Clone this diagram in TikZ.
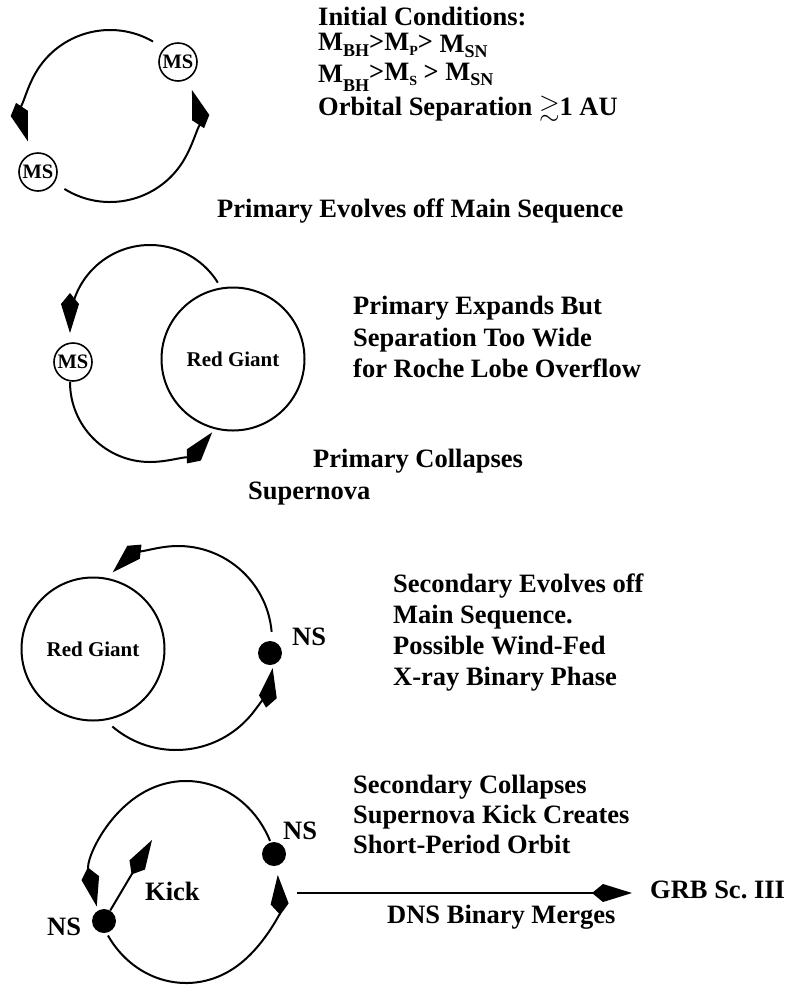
\documentclass[tikz,border=0pt]{standalone}
\usepackage{fontspec}
\setmainfont{Liberation Serif}
\usepackage{amssymb}
\usetikzlibrary{arrows.meta,calc}

\newcommand{\mass}[2][-6pt]{M\raisebox{#1}{\fontsize{18}{18}\selectfont #2}}

\begin{document}
\begin{tikzpicture}[
		x=1pt, y=1pt,
		font=\fontsize{26.5}{30}\selectfont\bfseries,
		>={Kite[length=40pt,width=18pt,inset=11pt]},
		flow/.style={->, line width=2pt},
		mstar/.style={draw, circle, line width=1.6pt, minimum size=38pt, inner sep=0pt, font=\fontsize{20.5}{20}\selectfont\bfseries},
		giant/.style={draw, circle, line width=2pt, minimum size=143pt, inner sep=0pt, font=\fontsize{21}{21}\selectfont\bfseries},
		nstar/.style={fill, circle, minimum size=24pt, inner sep=0pt},
		caption/.style={anchor=base west, inner sep=0pt}
		]
		\useasboundingbox (0,0) rectangle (795,-997);
		
		\coordinate (o1) at (110,-116);
		\node[mstar] (ms1) at (178,-62) {MS};
		\node[mstar] (ms2) at (38,-172) {MS};
		\draw[flow] ($(o1)+(60:86)$) arc[start angle=60, end angle=197, radius=86];
		\draw[flow] ($(o1)+(238:86)$) arc[start angle=238, end angle=377.6, radius=86];
		
		\node[caption] (cond1) at (318,-25) {Initial Conditions:};
		\node[caption] (cond2) at (318,-50) {\mass{BH}>\mass[-5pt]{\fontsize{14}{14}\selectfont P}> \raisebox{-2pt}{\mass[-5pt]{SN}}};
		\node[caption] (cond3) at (318,-82) {\mass[-9pt]{BH}\raisebox{2pt}{>\mass[-5pt]{\fontsize{14}{14}\selectfont S} > \mass[-5pt]{SN}}};
		\node[caption] (cond4) at (318,-115) {Orbital Separation $\gtrsim$1 AU};
		\node[caption] (evolve1) at (217,-217) {Primary Evolves off Main Sequence};
		
		\node[giant] (rg1) at (233,-359) {Red Giant};
		\node[mstar] (ms3) at (73,-362) {MS};
		\coordinate (o2u) at (150,-325);
		\coordinate (o2l) at (150,-382);
		\draw[flow] ($(o2u)+(32:80)$) arc[start angle=32, end angle=180, radius=80] -- ++(0,-8);
		\draw[flow] ($(o2l)+(180:80)$) arc[start angle=180, end angle=321, radius=80];
		
		\node[caption] (expand1) at (353,-314) {Primary Expands But};
		\node[caption] (expand2) at (353,-346) {Separation Too Wide};
		\node[caption] (expand3) at (353,-377) {for Roche Lobe Overflow};
		\node[caption] (collapse1) at (313,-467) {Primary Collapses};
		\node[caption] (collapse2) at (248,-499) {Supernova};
		
		\node[giant] (rg2) at (93,-649) {Red Giant};
		\node[nstar] (ns1) at (270,-653) {};
		\node[caption] (nslab1) at (292,-645) {NS};
		\coordinate (o3u) at (178,-640);
		\coordinate (o3l) at (176,-652);
		\draw[flow] ($(o3u)+(5:94)$) arc[start angle=5, end angle=134, radius=94];
		\draw[flow] ($(o3l)+(229.5:98)$) arc[start angle=229.5, end angle=350.5, radius=98];
		
		\node[caption] (wind1) at (393,-592) {Secondary Evolves off};
		\node[caption] (wind2) at (393,-623) {Main Sequence.};
		\node[caption] (wind3) at (393,-654) {Possible Wind-Fed};
		\node[caption] (wind4) at (393,-685) {X-ray Binary Phase};
		
		\coordinate (o4) at (186,-882);
		\node[nstar] (ns2) at (274,-854) {};
		\node[nstar] (ns3) at (104,-921) {};
		\node[caption] (nslab2) at (283,-839) {NS};
		\node[caption] (nslab3) at (47,-935) {NS};
		\draw[flow] ($(o4)+(24:92 and 101)$) arc[start angle=24, end angle=194, x radius=92, y radius=101];
		\draw[flow] ($(o4)+(212:92 and 101)$) arc[start angle=212, end angle=364, x radius=92, y radius=101];
		\coordinate (kicktip) at (152,-840);
		\draw[flow] (ns3) -- (kicktip);
		\node[caption] (kick) at (145,-900) {Kick};
		
		\node[caption] (sec1) at (353,-793) {Secondary Collapses};
		\node[caption] (sec2) at (353,-823) {Supernova Kick Creates};
		\node[caption] (sec3) at (353,-853) {Short-Period Orbit};
		
		\coordinate (mergestart) at (297,-893);
		\node[caption] (grb) at (650,-898) {GRB Sc.~III};
		\draw[flow] (mergestart) -- ([xshift=-18pt]grb.west |- mergestart);
		\node[caption] (merge) at (387,-923) {DNS Binary Merges};
	\end{tikzpicture}
\end{document}
